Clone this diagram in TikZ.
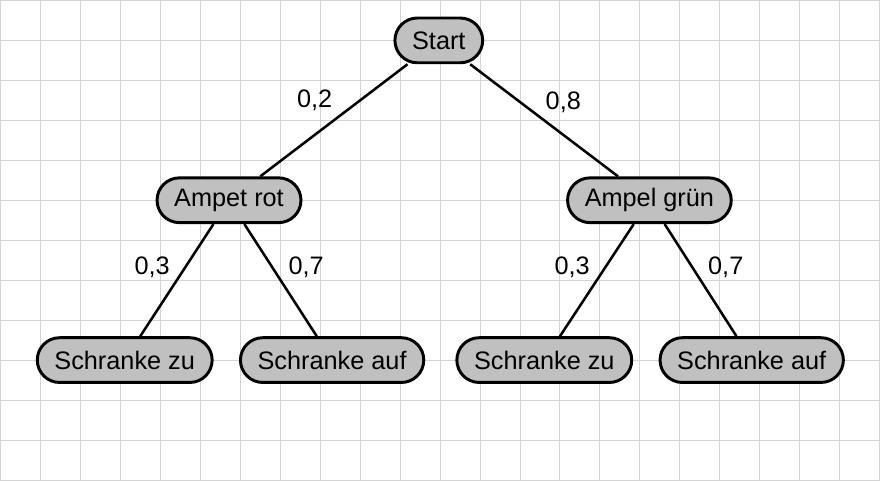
\documentclass[tikz,border=0pt]{standalone}
\usepackage{fontspec}
\setmainfont{Liberation Sans}
\usepackage{tikz}
\usetikzlibrary{positioning}
\definecolor{knoten}{HTML}{C0C0C0}
\definecolor{raster}{HTML}{D4D4D4}

\begin{document}
\begin{tikzpicture}[
        every node/.style={font=\fontsize{18}{20}\selectfont},
        box/.style={rectangle, rounded corners=0.56cm, draw, fill=knoten,
          line width=2.1pt, minimum height=1.12cm, inner xsep=0.43cm},
        ast/.style={line width=1.8pt},
        lbl/.style={inner sep=0pt}]

      % Raster im Hintergrund
      \fill[white] (0,0) rectangle (22,-12);
      \draw[raster, line width=0.6pt] (0,0) grid (22,-12);
      \useasboundingbox (0,0) rectangle (22,-12);

      \node[box] (S) at (10.97,-1) {Start};
      \node[box] (R) at (5.72,-5) {Ampet rot};
      \node[box] (G) at (16.24,-5) {Ampel grün};
      \node[box] (RZ) at (3.11,-9) {Schranke zu};
      \node[box] (RA) at (8.3,-9) {Schranke auf};
      \node[box] (GZ) at (13.61,-9) {Schranke zu};
      \node[box] (GA) at (18.8,-9) {Schranke auf};

      \draw[ast] (S) -- node[lbl, xshift=-0.48cm, yshift=0.5cm] {0,2} (R);
      \draw[ast] (S) -- node[lbl, xshift=0.48cm, yshift=0.45cm] {0,8} (G);
      \draw[ast] (R) -- node[lbl, xshift=-0.62cm, yshift=0.33cm] {0,3} (RZ);
      \draw[ast] (R) -- node[lbl, xshift=0.64cm, yshift=0.33cm] {0,7} (RA);
      \draw[ast] (G) -- node[lbl, xshift=-0.62cm, yshift=0.33cm] {0,3} (GZ);
      \draw[ast] (G) -- node[lbl, xshift=0.63cm, yshift=0.33cm] {0,7} (GA);
    \end{tikzpicture}
\end{document}
